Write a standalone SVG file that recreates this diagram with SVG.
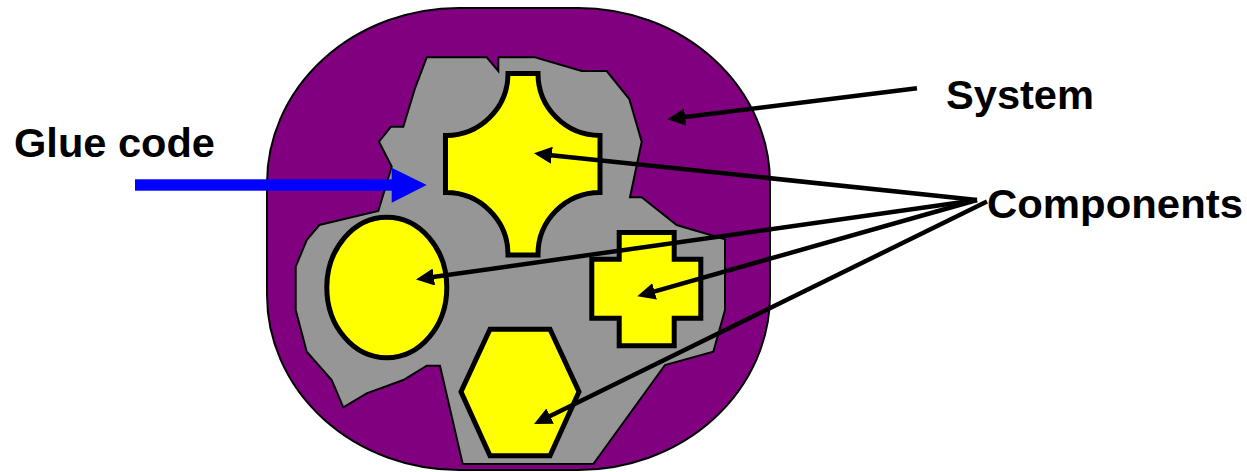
<svg xmlns="http://www.w3.org/2000/svg" width="1247" height="472" viewBox="0 0 1247 472">
<style>
.lbl{font-family:"Liberation Sans",Arial,sans-serif;font-weight:bold;font-size:40px;fill:#000}
.comp{fill:#FFFF00;stroke:#000;stroke-width:5;stroke-linejoin:miter}
.ptr{stroke:#000;stroke-width:4.5;fill:none;marker-end:url(#ah)}
</style>
<defs>
<marker id="ah" viewBox="0 0 18 17" refX="8" refY="8.5" markerWidth="18" markerHeight="17" markerUnits="userSpaceOnUse" orient="auto">
<path d="M18,8.5 L0,0 L0,17 Z" fill="#000"/>
</marker>
</defs>
<rect width="1247" height="472" fill="#fff"/>
<g id="system">
<rect x="267" y="8" width="503" height="462" rx="192" ry="175" fill="#800080" stroke="#000" stroke-width="2"/>
</g>
<g id="glue-code">
<polygon points="426.7,57.3 486.7,57.3 498.3,71 498.3,57.3 535,57.3 581.7,71 606.7,71 629.3,99 641.7,141.7 630,197.3 641.7,197.3 676.7,225 725,239.3 725,310 713.3,351.7 665,365 593.3,464 462.7,464 440,365.7 426.7,365.7 403.3,380 366.7,393.3 343.3,407.3 331.7,380 306.7,351.7 295.7,310 295.7,266.7 306.7,240 319.3,225 378.3,211 391.7,166.7 379,141.7 391,126.7 403.3,126.7 415,88.3" fill="#969696" stroke="#000" stroke-width="2" stroke-linejoin="miter"/>
</g>
<g id="component-star">
<path class="comp" d="M508,73.5 H538 A62,62 0 0 0 600,135.5 V192.5 A62,62 0 0 0 538,255 H508 A62,62 0 0 0 445.5,192.5 V135.5 A62,62 0 0 0 508,73.5 Z"/>
</g>
<g id="component-ellipse">
<ellipse class="comp" cx="386.8" cy="287.5" rx="60" ry="70.3"/>
</g>
<g id="component-cross">
<polygon class="comp" points="619.2,232.5 674.2,232.5 674.2,259.2 700.8,259.2 700.8,318.2 674.2,318.2 674.2,345.8 619.2,345.8 619.2,318.2 591.8,318.2 591.8,259.2 619.2,259.2"/>
</g>
<g id="component-hexagon">
<polygon class="comp" points="490,329.2 550,329.2 579,391.7 550,455.8 490,455.8 461,391.7"/>
</g>
<g id="labels">
<text class="lbl" x="14" y="157" textLength="201" lengthAdjust="spacingAndGlyphs">Glue code</text>
<text class="lbl" x="946" y="109" textLength="148" lengthAdjust="spacingAndGlyphs">System</text>
<text class="lbl" x="987" y="218" textLength="256" lengthAdjust="spacingAndGlyphs">Components</text>
</g>
<g id="connectors">
<g id="glue-arrow" fill="#0000FF">
<rect x="135" y="179.3" width="257" height="11.4"/>
<polygon points="391.7,167.7 426.7,185 391.7,202.7"/>
</g>
<line class="ptr" x1="917" y1="88.3" x2="677.2" y2="118.1"/>
<line class="ptr" x1="977" y1="200" x2="543.9" y2="154.4"/>
<line class="ptr" x1="977" y1="200" x2="425.9" y2="278.1"/>
<line class="ptr" x1="977" y1="200" x2="646.9" y2="293.6"/>
<line class="ptr" x1="987" y1="201.5" x2="543" y2="419.6"/>
</g>
</svg>
